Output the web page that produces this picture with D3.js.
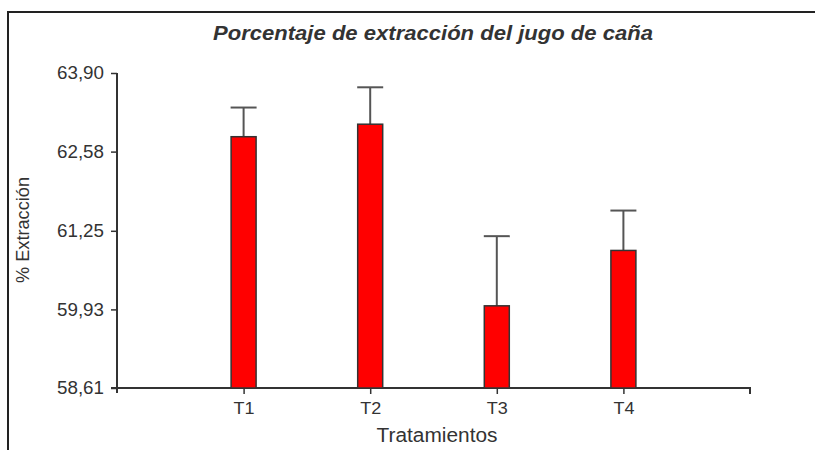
<!DOCTYPE html>
<html>
<head>
<meta charset="utf-8">
<script src="https://cdn.jsdelivr.net/npm/d3@7"></script>
<style>
  html, body { margin: 0; padding: 0; background: #fff; }
  svg { display: block; }
  text { font-family: Arial, "Liberation Sans", sans-serif; fill: #333; }
</style>
</head>
<body>
<svg id="chart" width="815" height="450"></svg>
<script>
// Treatments, mean extraction (%) and error bar height
const categories = ["T1", "T2", "T3", "T4"];
const means = [62.83, 63.04, 59.99, 60.92];
const errors = [0.49, 0.62, 1.17, 0.67];
const yTicks = [58.61, 59.93, 61.25, 62.58, 63.90];

const svg = d3.select("#chart");
const plot = { left: 117, right: 750, top: 73, bottom: 388 };

// outer frame (top and left edges)
svg.append("path")
  .attr("d", "M8,450 V12 H815")
  .attr("fill", "none").attr("stroke", "#222").attr("stroke-width", 2);

const x = d3.scaleLinear().domain([0, categories.length + 1]).range([plot.left, plot.right]);
const y = d3.scaleLinear().domain([58.61, 63.90]).range([plot.bottom, plot.top]);

const fmt = v => v.toFixed(2).replace(".", ",");

// y axis
const yAxis = svg.append("g").attr("transform", `translate(${plot.left},0)`)
  .call(d3.axisLeft(y).tickValues(yTicks).tickFormat(fmt).tickSize(6).tickPadding(7).tickSizeOuter(0));
yAxis.select(".domain").attr("stroke", "#333").attr("stroke-width", 2)
  .attr("d", `M0,${plot.top}V${plot.bottom + 5}`);
yAxis.selectAll(".tick line").attr("stroke", "#333").attr("stroke-width", 1.5);
yAxis.selectAll(".tick text").attr("font-size", 18).attr("fill", "#3a3a3a")
  .attr("textLength", 47).attr("lengthAdjust", "spacingAndGlyphs");

// x axis
const xAxis = svg.append("g").attr("transform", `translate(0,${plot.bottom})`)
  .call(d3.axisBottom(x).tickValues(d3.range(1, categories.length + 1))
    .tickFormat(i => categories[i - 1]).tickSize(6).tickPadding(8).tickSizeOuter(0));
xAxis.select(".domain").attr("stroke", "#333").attr("stroke-width", 2)
  .attr("d", `M${plot.left - 6},0H${plot.right}V6`);
xAxis.selectAll(".tick line").attr("stroke", "#333").attr("stroke-width", 1.5);
xAxis.selectAll(".tick text").attr("font-size", 17).attr("fill", "#3a3a3a")
  .attr("textLength", 21).attr("lengthAdjust", "spacingAndGlyphs");

const barW = 25;

// error bars (drawn first so bars sit on top)
const eb = svg.append("g").selectAll("g").data(categories).join("g");
eb.append("line")
  .attr("x1", (d, i) => x(i + 1)).attr("x2", (d, i) => x(i + 1))
  .attr("y1", (d, i) => y(means[i])).attr("y2", (d, i) => y(means[i] + errors[i]))
  .attr("stroke", "#555").attr("stroke-width", 2);
eb.append("line")
  .attr("x1", (d, i) => x(i + 1) - 13).attr("x2", (d, i) => x(i + 1) + 13)
  .attr("y1", (d, i) => y(means[i] + errors[i])).attr("y2", (d, i) => y(means[i] + errors[i]))
  .attr("stroke", "#555").attr("stroke-width", 2);

// bars
svg.append("g").selectAll("rect").data(categories).join("rect")
  .attr("x", (d, i) => x(i + 1) - barW / 2)
  .attr("width", barW)
  .attr("y", (d, i) => y(means[i]))
  .attr("height", (d, i) => y(58.61) - y(means[i]))
  .attr("fill", "#ff0000").attr("stroke", "#333").attr("stroke-width", 1.5);

// title
svg.append("text")
  .attr("x", 433).attr("y", 40).attr("text-anchor", "middle")
  .attr("font-size", 20).attr("font-weight", "bold").attr("font-style", "italic")
  .attr("fill", "#111")
  .attr("textLength", 440).attr("lengthAdjust", "spacingAndGlyphs")
  .text("Porcentaje de extracción del jugo de caña");

// axis titles
svg.append("text")
  .attr("x", 437).attr("y", 442).attr("text-anchor", "middle")
  .attr("font-size", 20).attr("fill", "#3a3a3a")
  .attr("textLength", 121).attr("lengthAdjust", "spacingAndGlyphs")
  .text("Tratamientos");

svg.append("text")
  .attr("transform", "translate(29,230) rotate(-90)")
  .attr("text-anchor", "middle")
  .attr("font-size", 18).attr("fill", "#3a3a3a")
  .attr("textLength", 106).attr("lengthAdjust", "spacingAndGlyphs")
  .text("% Extracción");
</script>
</body>
</html>
